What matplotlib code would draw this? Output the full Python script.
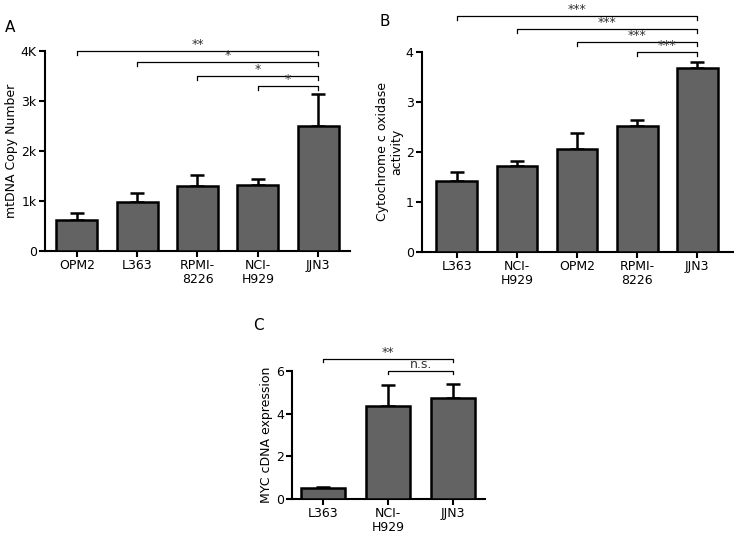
import matplotlib.pyplot as plt

# panel A
a_labels = ['OPM2', 'L363', 'RPMI-\n8226', 'NCI-\nH929', 'JJN3']
a_values = [620, 980, 1300, 1320, 2500]
a_err = [140, 180, 220, 120, 640]
a_ticks = [0, 1000, 2000, 3000, 4000]
a_ticklabels = ['0', '1k', '2k', '3k', '4K']
a_sig = [(0, 4, 4000, '**'), (1, 4, 3780, '*'), (2, 4, 3500, '*'), (3, 4, 3300, '*')]

# panel B
b_labels = ['L363', 'NCI-\nH929', 'OPM2', 'RPMI-\n8226', 'JJN3']
b_values = [1.42, 1.72, 2.06, 2.52, 3.68]
b_err = [0.18, 0.10, 0.32, 0.12, 0.12]
b_ticks = [0, 1, 2, 3, 4]
b_sig = [(0, 4, 4.72, '***'), (1, 4, 4.46, '***'), (2, 4, 4.2, '***'), (3, 4, 4.0, '***')]

# panel C
c_labels = ['L363', 'NCI-\nH929', 'JJN3']
c_values = [0.52, 4.36, 4.74]
c_err = [0.05, 1.0, 0.66]
c_ticks = [0, 2, 4, 6]
c_sig = [(0, 2, 6.56, '**'), (1, 2, 6.0, 'n.s.')]

BAR = '#636363'
FS = 9


def drawPanel(ax, labels, values, err, ticks, ticklabels, ylim, xpad, sig, ylabel):
	x = list(range(len(values)))
	ax.bar(x, values, width=0.68, color=BAR, edgecolor='black', linewidth=1.8, zorder=3)
	ax.errorbar(x, values, yerr=[[0]*len(err), err], fmt='none', ecolor='black',
		elinewidth=1.8, capsize=5, capthick=1.8, zorder=2)
	ax.set_xlim(-xpad[0], len(values)-1+xpad[1])
	ax.set_ylim(ylim)
	ax.set_xticks(x)
	ax.set_xticklabels(labels, fontsize=FS, linespacing=1.1)
	ax.set_yticks(ticks)
	ax.set_yticklabels(ticklabels, fontsize=FS)
	ax.set_ylabel(ylabel, fontsize=FS, linespacing=1.1, labelpad=2)
	for s in ['top', 'right']:
		ax.spines[s].set_visible(False)
	for s in ['left', 'bottom']:
		ax.spines[s].set_linewidth(1.5)
	ax.tick_params(width=1.5, length=4, pad=2)
	drop = (ylim[1]-ylim[0])*0.02
	for (i, j, y, txt) in sig:
		ax.plot([x[i], x[i], x[j], x[j]], [y-drop, y, y, y-drop], color='black',
			linewidth=0.9, clip_on=False)
		ax.text((x[i]+x[j])/2., y, txt, ha='center', va='bottom', fontsize=FS, color='#333333')


fig = plt.figure(figsize=(7.34, 5.39), dpi=100)

axA = fig.add_axes([0.0613, 0.5343, 0.4155, 0.371])
drawPanel(axA, a_labels, a_values, a_err, a_ticks, a_ticklabels, (0, 4000), (0.53, 0.53),
	a_sig, 'mtDNA Copy Number')

axB = fig.add_axes([0.575, 0.5325, 0.424, 0.371])
drawPanel(axB, b_labels, b_values, b_err, b_ticks, [str(t) for t in b_ticks], (0, 4), (0.58, 0.6),
	b_sig, 'Cytochrome c oxidase\nactivity')

axC = fig.add_axes([0.398, 0.0742, 0.263, 0.2375])
drawPanel(axC, c_labels, c_values, c_err, c_ticks, [str(t) for t in c_ticks], (0, 6), (0.48, 0.49),
	c_sig, 'MYC cDNA expression')

fig.text(10/734., 1-28/539., 'A', fontsize=11, ha='center', va='center')
fig.text(385/734., 1-22/539., 'B', fontsize=11, ha='center', va='center')
fig.text(258/734., 1-325/539., 'C', fontsize=11, ha='center', va='center')

fig.savefig('out.png', dpi=100)
